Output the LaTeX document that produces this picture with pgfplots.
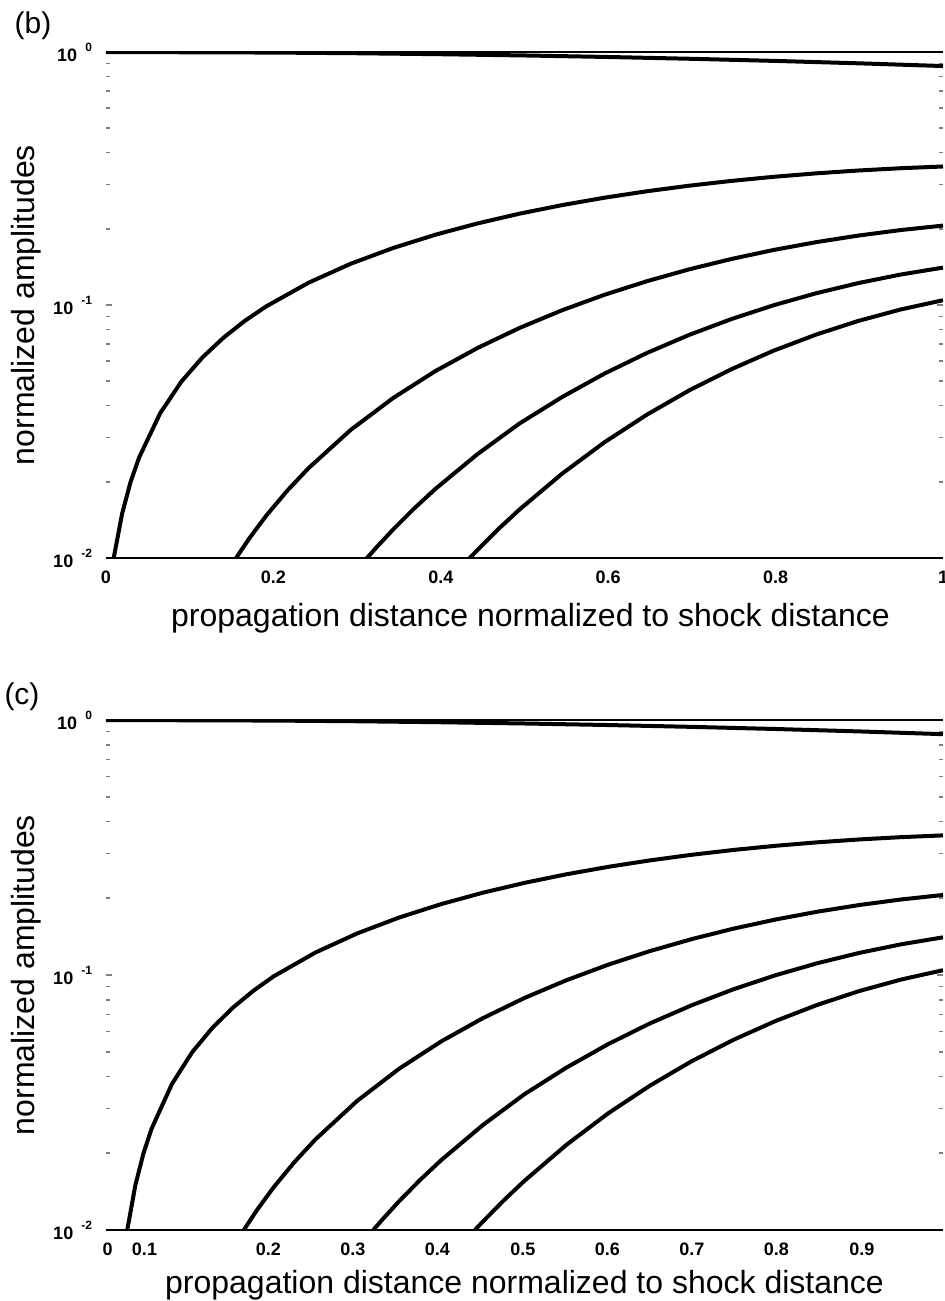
\documentclass[border=0pt]{standalone}
\usepackage{fontspec}
\setmainfont{Liberation Sans}
\usepackage{pgfplots}
\pgfplotsset{compat=1.18}
\newcommand{\tl}[1]{10\hspace{4pt}\raisebox{5pt}{\fontsize{6}{7}\selectfont\bfseries #1}}
\pgfplotsset{
  myax/.style={
    scale only axis, width=418.5pt,
    separate axis lines,
    x axis line style={line width=0.7pt},
    y axis line style={draw=none},
    ytick={0.01,0.1,1},
    yticklabels={\tl{-2},\tl{-1},\tl{0}},
    minor ytick={0.02,0.03,0.04,0.05,0.06,0.07,0.08,0.09,0.2,0.3,0.4,0.5,0.6,0.7,0.8,0.9},
    tick align=inside,
    major tick length=3pt, minor tick length=2pt,
    ytick style={line width=0.8pt},
    xtick style={draw=none},
    tick label style={font=\bfseries\fontsize{9}{10}\selectfont},
    yticklabel style={anchor=east, xshift=-3.5pt},
    xticklabel style={anchor=north, yshift=-3pt},
    ylabel={normalized amplitudes},
    xlabel={propagation distance normalized to shock distance},
    ylabel style={at={(axis description cs:0,0.5)}, anchor=center, yshift=40pt, font=\fontsize{16}{19}\selectfont},
    xlabel style={at={(axis description cs:0.5,0)}, anchor=center, font=\fontsize{16}{19}\selectfont},
    every axis plot post/.append style={black, line width=2pt, solid, line join=round, mark=none},
  }
}
\begin{document}
\begin{tikzpicture}
\path[use as bounding box] (0,0) rectangle (472.5pt,-650.5pt);
\node[font=\fontsize{15}{18}\selectfont] at (16.5pt,-13pt) {(b)};
\node[font=\fontsize{15}{18}\selectfont] at (11pt,-348.5pt) {(c)};
% ---------------- panel (b) ----------------
\begin{axis}[ymode=log, xmin=0, xmax=1, ymin=0.01, ymax=1, myax, at={(53pt,-279pt)}, height=253pt,
  xtick={0,0.2,0.4,0.6,0.8,1},
  xticklabels={0,0.2,0.4,0.6,0.8,1},
  xlabel style={yshift=-30pt, xshift=3pt}]
\addplot coordinates {(0,1.0) (0.1,0.9975) (0.2,0.995) (0.3,0.9888) (0.4,0.9801) (0.5,0.9691) (0.6,0.9557) (0.7,0.9400) (0.8,0.9221) (0.9,0.9021) (1.0,0.8801)};
\addplot coordinates {(0.0092,0.0100) (0.0193,0.0150) (0.0294,0.0200) (0.0396,0.02498) (0.0648,0.0374) (0.0901,0.04983) (0.1154,0.06217) (0.1407,0.07444) (0.1659,0.08661) (0.1912,0.09867) (0.2418,0.12242) (0.2923,0.14555) (0.3429,0.16796) (0.3934,0.18954) (0.4440,0.21019) (0.4945,0.22981) (0.5451,0.24830) (0.5956,0.26558) (0.6462,0.28158) (0.6967,0.29622) (0.7473,0.30945) (0.7978,0.32121) (0.8484,0.33146) (0.8989,0.34016) (0.9495,0.34729) (1.0,0.35283)};
\addplot coordinates {(0.1554,0.0100) (0.1710,0.01193) (0.1912,0.01467) (0.2165,0.01845) (0.2418,0.02263) (0.2923,0.03208) (0.3429,0.04286) (0.3934,0.05479) (0.4440,0.06767) (0.4945,0.08129) (0.5451,0.09540) (0.5956,0.10978) (0.6462,0.12418) (0.6967,0.13836) (0.7473,0.15207) (0.7978,0.16510) (0.8484,0.17720) (0.8989,0.18818) (0.9495,0.19784) (1.0,0.20603)};
\addplot coordinates {(0.3118,0.0100) (0.3226,0.01097) (0.3429,0.01295) (0.3681,0.01569) (0.3934,0.01874) (0.4440,0.02577) (0.4945,0.03410) (0.5451,0.04332) (0.5956,0.05359) (0.6462,0.06463) (0.6967,0.07619) (0.7473,0.08802) (0.7978,0.09983) (0.8484,0.11129) (0.8989,0.12211) (0.9495,0.13197) (1.0,0.14055)};
\addplot coordinates {(0.4346,0.0100) (0.4440,0.01077) (0.4692,0.01305) (0.4945,0.01560) (0.5451,0.02157) (0.5956,0.02869) (0.6462,0.03686) (0.6967,0.04597) (0.7473,0.05578) (0.7978,0.06604) (0.8484,0.07642) (0.8989,0.08654) (0.9495,0.09602) (1.0,0.10445)};
\end{axis}
% ---------------- panel (c) ----------------
\begin{axis}[ymode=log, xmin=0, xmax=1, ymin=0.01, ymax=1, myax, at={(53pt,-615pt)}, height=255pt,
  xtick={0.002,0.046,0.194,0.295,0.396,0.498,0.599,0.700,0.801,0.903},
  xticklabels={0,0.1,0.2,0.3,0.4,0.5,0.6,0.7,0.8,0.9},
  xlabel style={yshift=-27.5pt}]
\addplot coordinates {(0,1.0) (0.1,0.9975) (0.2,0.995) (0.3,0.9888) (0.4,0.9801) (0.5,0.9691) (0.6,0.9557) (0.7,0.9400) (0.8,0.9221) (0.9,0.9021) (1.0,0.8801)};
\addplot coordinates {(0.0254,0.0100) (0.0351,0.0150) (0.0448,0.0200) (0.0545,0.02498) (0.0788,0.0374) (0.1030,0.04983) (0.1273,0.06217) (0.1515,0.07444) (0.1758,0.08661) (0.2,0.09867) (0.25,0.12242) (0.3,0.14555) (0.35,0.16796) (0.4,0.18954) (0.45,0.21019) (0.5,0.22981) (0.55,0.24830) (0.6,0.26558) (0.65,0.28158) (0.7,0.29622) (0.75,0.30945) (0.8,0.32121) (0.85,0.33146) (0.9,0.34016) (0.95,0.34729) (1.0,0.35283)};
\addplot coordinates {(0.1646,0.0100) (0.18,0.01193) (0.2,0.01467) (0.225,0.01845) (0.25,0.02263) (0.3,0.03208) (0.35,0.04286) (0.4,0.05479) (0.45,0.06767) (0.5,0.08129) (0.55,0.09540) (0.6,0.10978) (0.65,0.12418) (0.7,0.13836) (0.75,0.15207) (0.8,0.16510) (0.85,0.17720) (0.9,0.18818) (0.95,0.19784) (1.0,0.20603)};
\addplot coordinates {(0.3193,0.0100) (0.33,0.01097) (0.35,0.01295) (0.375,0.01569) (0.4,0.01874) (0.45,0.02577) (0.5,0.03410) (0.55,0.04332) (0.6,0.05359) (0.65,0.06463) (0.7,0.07619) (0.75,0.08802) (0.8,0.09983) (0.85,0.11129) (0.9,0.12211) (0.95,0.13197) (1.0,0.14055)};
\addplot coordinates {(0.4407,0.0100) (0.45,0.01077) (0.475,0.01305) (0.5,0.01560) (0.55,0.02157) (0.6,0.02869) (0.65,0.03686) (0.7,0.04597) (0.75,0.05578) (0.8,0.06604) (0.85,0.07642) (0.9,0.08654) (0.95,0.09602) (1.0,0.10445)};
\end{axis}
\end{tikzpicture}
\end{document}
